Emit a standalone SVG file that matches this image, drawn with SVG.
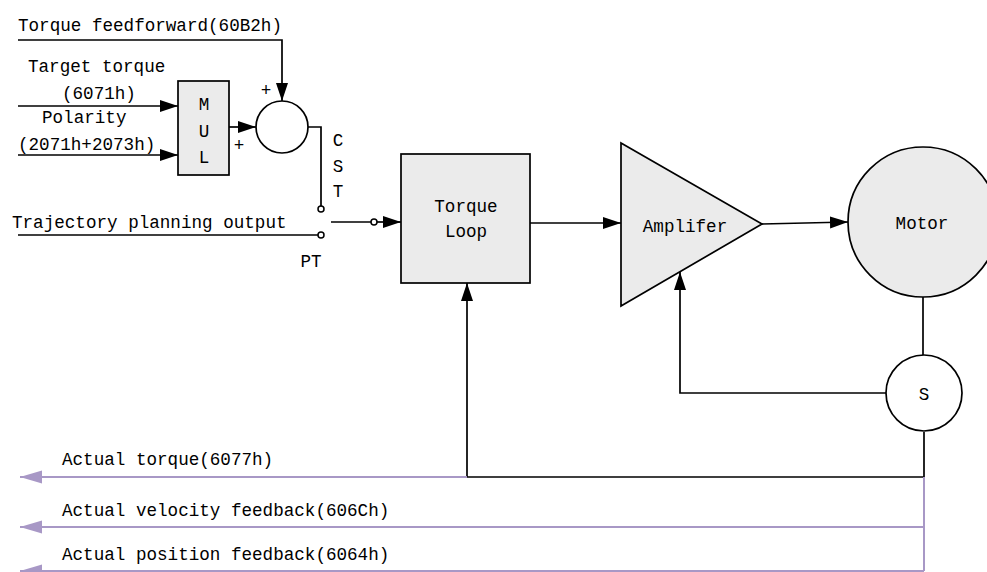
<svg xmlns="http://www.w3.org/2000/svg" width="987" height="572" viewBox="0 0 987 572">
<style>
text{font-family:"Liberation Mono","DejaVu Sans Mono",monospace;font-size:17.6px;fill:#000}
.c{text-anchor:middle}
.ln{fill:none;stroke:#000;stroke-width:1.7}
.pl{fill:none;stroke:#a898c6;stroke-width:2}
.blk{fill:#ebebeb;stroke:#000;stroke-width:1.7}
.term{fill:#fff;stroke:#000;stroke-width:1.5}
</style>
<defs>
<marker id="a" markerUnits="userSpaceOnUse" markerWidth="20" markerHeight="14" refX="18" refY="6" orient="auto"><path d="M0,0 L18,6 L0,12 z" fill="#000"/></marker>
<marker id="p" markerUnits="userSpaceOnUse" markerWidth="24" markerHeight="14" refX="22" refY="6.5" orient="auto"><path d="M0,0 L22,6.5 L0,13 z" fill="#a898c6"/></marker>
</defs>
<rect width="987" height="572" fill="#fff"/>

<g id="connectors">
<path class="ln" d="M18,40 H282 V101" marker-end="url(#a)"/>
<path class="ln" d="M18,106 H178" marker-end="url(#a)"/>
<path class="ln" d="M18,155 H178" marker-end="url(#a)"/>
<path class="ln" d="M229,127 H256" marker-end="url(#a)"/>
<path class="ln" d="M308,127 H321 V206"/>
<path class="ln" d="M18,235 H318"/>
<path class="ln" d="M331,222 H371"/>
<path class="ln" d="M377,222 H401" marker-end="url(#a)"/>
<path class="ln" d="M530,223 H621" marker-end="url(#a)"/>
<path class="ln" d="M762,224 L848,222" marker-end="url(#a)"/>
<path class="ln" d="M923,297 V355"/>
<path class="ln" d="M886,393 H680 V272" marker-end="url(#a)"/>
<path class="ln" d="M924,432 V477 H467 V283" marker-end="url(#a)"/>
<path class="pl" d="M467,477 H20" marker-end="url(#p)"/>
<path class="pl" d="M924,477 V571"/>
<path class="pl" d="M924,527 H20" marker-end="url(#p)"/>
<path class="pl" d="M924,571 H20" marker-end="url(#p)"/>
<circle class="term" cx="321" cy="209" r="3"/>
<circle class="term" cx="321" cy="235" r="3"/>
<circle class="term" cx="374" cy="222" r="3"/>
</g>

<g id="labels">
<text x="18" y="31">Torque feedforward(60B2h)</text>
<text x="28" y="72">Target torque</text>
<text x="62" y="99">(6071h)</text>
<text x="42" y="123">Polarity</text>
<text x="18" y="150">(2071h+2073h)</text>
<text x="12" y="228">Trajectory planning output</text>
<text class="c" x="266" y="96">+</text>
<text class="c" x="239" y="151">+</text>
<text class="c" x="338" y="146">C</text>
<text class="c" x="338" y="172">S</text>
<text class="c" x="338" y="197">T</text>
<text class="c" x="311" y="267">PT</text>
<text x="62" y="465">Actual torque(6077h)</text>
<text x="62" y="516">Actual velocity feedback(606Ch)</text>
<text x="62" y="560">Actual position feedback(6064h)</text>
</g>

<g id="mul">
<rect class="blk" x="178" y="81" width="51" height="94"/>
<text class="c" x="204" y="110">M</text>
<text class="c" x="204" y="137">U</text>
<text class="c" x="204" y="163">L</text>
</g>

<g id="sum">
<circle cx="282" cy="127" r="26" fill="#fff" stroke="#000" stroke-width="1.7"/>
</g>

<g id="torque-loop">
<rect class="blk" x="401" y="154" width="129" height="129"/>
<text class="c" x="466" y="212">Torque</text>
<text class="c" x="466" y="237">Loop</text>
</g>

<g id="amplifier">
<path class="blk" d="M621,143 L762,224 L621,306 z"/>
<text class="c" x="685" y="232">Amplifer</text>
</g>

<g id="motor">
<circle class="blk" cx="923" cy="222" r="75"/>
<text class="c" x="922" y="229">Motor</text>
</g>

<g id="sensor">
<circle cx="924" cy="393" r="38" fill="#fff" stroke="#000" stroke-width="1.7"/>
<text class="c" x="924" y="400">S</text>
</g>
</svg>
